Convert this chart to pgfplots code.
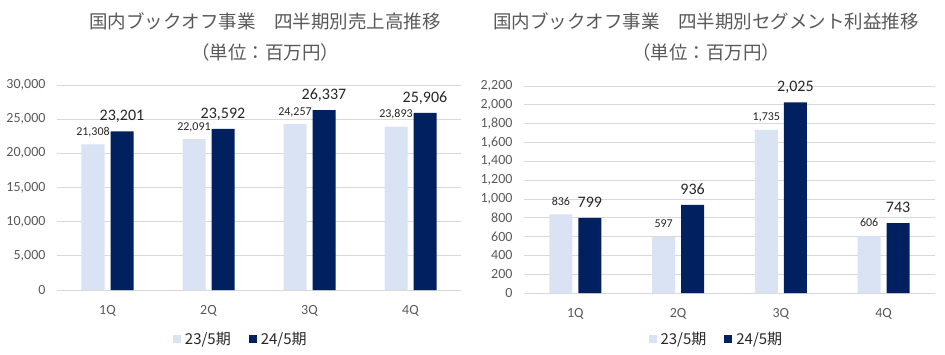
\documentclass[border=0pt]{standalone}
\usepackage{fontspec}
\setmainfont{Carlito}
\newfontfamily\jp{Noto Sans CJK JP}
\usepackage{pgfplots}
\pgfplotsset{compat=1.18}
\definecolor{lightbar}{HTML}{DAE3F3}
\definecolor{darkbar}{HTML}{002060}
\definecolor{gridc}{HTML}{D9D9D9}
\definecolor{txt}{HTML}{595959}
\definecolor{lbl}{HTML}{262626}
\pgfplotsset{
  base/.style={
    scale only axis, clip=false,
    xmin=-0.5, xmax=3.5, ymin=0,
    xtick={0,1,2,3}, xticklabels={1Q,2Q,3Q,4Q},
    ymajorgrids, major grid style={draw=gridc, line width=0.8pt},
    axis line style={draw=none}, tick style={draw=none},
    scaled y ticks=false,
    /pgf/number format/1000 sep={,},
    /pgf/number format/assume math mode=true,
    ticklabel style={font=\fontsize{14}{16}\selectfont, text=txt},
    xticklabel style={yshift=-8pt},
    yticklabel style={xshift=-8pt},
    ybar, bar width=23pt,
    legend columns=2,
    legend style={draw=none, fill=none, font=\jp\fontsize{15}{18}\selectfont, text=lbl, anchor=center,
      /tikz/every odd column/.append style={column sep=2pt},
      /tikz/every even column/.append style={column sep=16pt}},
    legend image code/.code={\draw[##1, draw=none] (0pt,-4pt) rectangle (8pt,4pt);},
  },
  small/.style={nodes near coords, every node near coord/.append style={font=\fontsize{12}{14}\selectfont, text=lbl, anchor=base, yshift=9pt}},
  large/.style={nodes near coords, every node near coord/.append style={font=\fontsize{16}{19}\selectfont, text=lbl, anchor=base, yshift=10.5pt}},
}
\begin{document}
\begin{tikzpicture}
\path[use as bounding box] (0,0) rectangle (945pt,354pt);
% Left chart
\begin{axis}[base, at={(57pt,64pt)}, anchor=south west, width=404pt, height=205pt,
  ymax=30000, ytick={0,5000,...,30000},
  legend style={at={(axis description cs:0.455,-0.239)}}]
\addplot[fill=lightbar, draw=none, bar shift=-14.5pt, small] coordinates {(0,21308) (1,22091) (2,24257) (3,23893)};
\addlegendentry{23/5期}
\addplot[fill=darkbar, draw=none, bar shift=14.5pt, large] coordinates {(0,23201) (1,23592) (2,26337) (3,25906)};
\addlegendentry{24/5期}
\node[font=\jp\fontsize{18.5}{22}\selectfont, text=txt] at (axis description cs:0.515,1.312) {国内ブックオフ事業　四半期別売上高推移};
\node[font=\jp\fontsize{18.5}{22}\selectfont, text=txt] at (axis description cs:0.515,1.161) {（単位：百万円）};
\end{axis}
% Right chart
\begin{axis}[base, at={(524pt,61pt)}, anchor=south west, width=411pt, height=207pt,
  ymax=2200, ytick={0,200,...,2200},
  legend style={at={(axis description cs:0.468,-0.222)}}]
\addplot[fill=lightbar, draw=none, bar shift=-14.5pt, small] coordinates {(0,836) (1,597) (2,1735) (3,606)};
\addlegendentry{23/5期}
\addplot[fill=darkbar, draw=none, bar shift=14.5pt, large] coordinates {(0,799) (1,936) (2,2025) (3,743)};
\addlegendentry{24/5期}
\node[font=\jp\fontsize{18.5}{22}\selectfont, text=txt] at (axis description cs:0.443,1.314) {国内ブックオフ事業　四半期別セグメント利益推移};
\node[font=\jp\fontsize{18.5}{22}\selectfont, text=txt] at (axis description cs:0.443,1.164) {（単位：百万円）};
\end{axis}
\end{tikzpicture}
\end{document}
